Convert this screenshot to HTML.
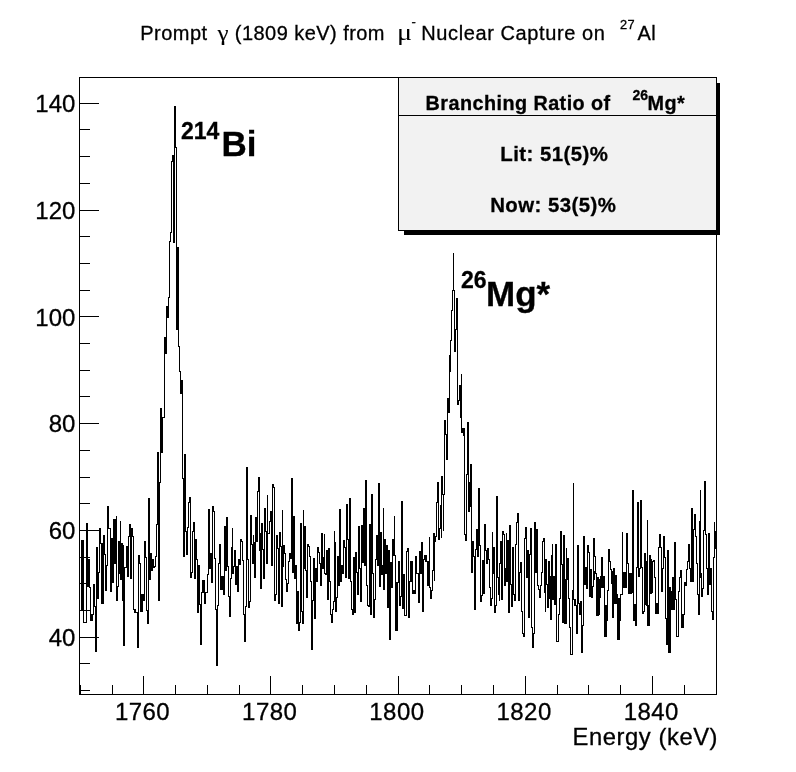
<!DOCTYPE html>
<html><head><meta charset="utf-8"><style>
html,body{margin:0;padding:0;background:#fff;}
svg{display:block;font-family:"Liberation Sans",sans-serif;filter:grayscale(1);}
text{stroke:#000;stroke-width:0.3px;}
</style></head><body>
<svg width="796" height="772" viewBox="0 0 796 772">
<rect width="796" height="772" fill="#fff"/>
<!-- title -->
<g font-size="20" fill="#000" letter-spacing="0.45">
<text x="140.3" y="39.8">Prompt</text>
<text transform="translate(217.4,39.8) scale(1.22,1)" font-family="Liberation Serif" font-size="20.5" letter-spacing="0" style="stroke-width:0.1px">γ</text>
<text x="234.8" y="39.8">(1809 keV) from</text>
<text transform="translate(396.9,39.8) scale(1.25,1)" font-family="Liberation Serif" font-size="22.5" letter-spacing="0" style="stroke-width:0">μ</text>
<text x="411.5" y="25.5" font-size="13">-</text>
<text x="421.3" y="39.8" letter-spacing="0.6">Nuclear Capture on</text>
<text x="620" y="28.8" font-size="12.8">27</text>
<text x="637.5" y="39.8">Al</text>
</g>
<!-- frame -->
<g shape-rendering="crispEdges" fill="#000">
<rect x="79" y="77" width="638" height="1"/>
<rect x="79" y="694" width="638" height="1"/>
<rect x="79" y="77" width="1" height="618"/>
<rect x="716" y="77" width="1" height="618"/>
<rect x="80" y="685" width="1" height="9"/>
<rect x="80" y="690" width="10" height="1"/><rect x="80" y="663" width="10" height="1"/><rect x="80" y="637" width="19" height="1"/><rect x="80" y="610" width="10" height="1"/><rect x="80" y="583" width="10" height="1"/><rect x="80" y="557" width="10" height="1"/><rect x="80" y="530" width="19" height="1"/><rect x="80" y="503" width="10" height="1"/><rect x="80" y="477" width="10" height="1"/><rect x="80" y="450" width="10" height="1"/><rect x="80" y="423" width="19" height="1"/><rect x="80" y="396" width="10" height="1"/><rect x="80" y="370" width="10" height="1"/><rect x="80" y="343" width="10" height="1"/><rect x="80" y="316" width="19" height="1"/><rect x="80" y="290" width="10" height="1"/><rect x="80" y="263" width="10" height="1"/><rect x="80" y="236" width="10" height="1"/><rect x="80" y="210" width="19" height="1"/><rect x="80" y="183" width="10" height="1"/><rect x="80" y="156" width="10" height="1"/><rect x="80" y="129" width="10" height="1"/><rect x="80" y="103" width="19" height="1"/><rect x="112" y="685" width="1" height="9"/><rect x="143" y="676" width="1" height="18"/><rect x="175" y="685" width="1" height="9"/><rect x="207" y="685" width="1" height="9"/><rect x="239" y="685" width="1" height="9"/><rect x="270" y="676" width="1" height="18"/><rect x="302" y="685" width="1" height="9"/><rect x="334" y="685" width="1" height="9"/><rect x="366" y="685" width="1" height="9"/><rect x="398" y="676" width="1" height="18"/><rect x="429" y="685" width="1" height="9"/><rect x="461" y="685" width="1" height="9"/><rect x="493" y="685" width="1" height="9"/><rect x="525" y="676" width="1" height="18"/><rect x="557" y="685" width="1" height="9"/><rect x="588" y="685" width="1" height="9"/><rect x="620" y="685" width="1" height="9"/><rect x="652" y="676" width="1" height="18"/><rect x="684" y="685" width="1" height="9"/>
</g>
<g fill="#000"><text x="75.4" y="646.2" text-anchor="end" font-size="24">40</text><text x="75.4" y="539.3" text-anchor="end" font-size="24">60</text><text x="75.4" y="432.4" text-anchor="end" font-size="24">80</text><text x="75.4" y="325.5" text-anchor="end" font-size="24">100</text><text x="75.4" y="218.6" text-anchor="end" font-size="24">120</text><text x="75.4" y="111.7" text-anchor="end" font-size="24">140</text><text x="142.5" y="720" text-anchor="middle" font-size="24" letter-spacing="0.45">1760</text><text x="269.7" y="720" text-anchor="middle" font-size="24" letter-spacing="0.45">1780</text><text x="396.9" y="720" text-anchor="middle" font-size="24" letter-spacing="0.45">1800</text><text x="524.1" y="720" text-anchor="middle" font-size="24" letter-spacing="0.45">1820</text><text x="651.3" y="720" text-anchor="middle" font-size="24" letter-spacing="0.45">1840</text>
<text x="572.6" y="745" font-size="23.8" letter-spacing="0.55">Energy (keV)</text>
</g>
<!-- histogram -->
<g shape-rendering="crispEdges" fill="#000"><rect x="80" y="610" width="1" height="1"/><rect x="81" y="540" width="1" height="71"/><rect x="82" y="540" width="1" height="71"/><rect x="83" y="540" width="1" height="83"/><rect x="84" y="622" width="1" height="1"/><rect x="85" y="622" width="1" height="1"/><rect x="86" y="523" width="1" height="100"/><rect x="87" y="523" width="1" height="37"/><rect x="88" y="559" width="1" height="1"/><rect x="89" y="559" width="1" height="29"/><rect x="90" y="587" width="1" height="34"/><rect x="91" y="614" width="1" height="7"/><rect x="92" y="614" width="1" height="7"/><rect x="93" y="606" width="1" height="9"/><rect x="94" y="606" width="1" height="1"/><rect x="95" y="606" width="1" height="46"/><rect x="96" y="547" width="1" height="105"/><rect x="97" y="547" width="1" height="52"/><rect x="98" y="572" width="1" height="27"/><rect x="99" y="528" width="1" height="45"/><rect x="100" y="528" width="1" height="16"/><rect x="101" y="543" width="1" height="61"/><rect x="102" y="543" width="1" height="61"/><rect x="103" y="535" width="1" height="69"/><rect x="104" y="535" width="1" height="20"/><rect x="105" y="554" width="1" height="37"/><rect x="106" y="565" width="1" height="26"/><rect x="107" y="506" width="1" height="60"/><rect x="108" y="506" width="1" height="23"/><rect x="109" y="528" width="1" height="1"/><rect x="110" y="528" width="1" height="64"/><rect x="111" y="538" width="1" height="54"/><rect x="112" y="538" width="1" height="45"/><rect x="113" y="519" width="1" height="64"/><rect x="114" y="519" width="1" height="45"/><rect x="115" y="519" width="1" height="45"/><rect x="116" y="516" width="1" height="85"/><rect x="117" y="586" width="1" height="15"/><rect x="118" y="541" width="1" height="46"/><rect x="119" y="541" width="1" height="33"/><rect x="120" y="521" width="1" height="59"/><rect x="121" y="543" width="1" height="37"/><rect x="122" y="543" width="1" height="58"/><rect x="123" y="545" width="1" height="101"/><rect x="124" y="567" width="1" height="79"/><rect x="125" y="567" width="1" height="1"/><rect x="126" y="546" width="1" height="22"/><rect x="127" y="546" width="1" height="31"/><rect x="128" y="536" width="1" height="41"/><rect x="129" y="524" width="1" height="13"/><rect x="130" y="524" width="1" height="55"/><rect x="131" y="528" width="1" height="51"/><rect x="132" y="528" width="1" height="9"/><rect x="133" y="536" width="1" height="74"/><rect x="134" y="609" width="1" height="4"/><rect x="135" y="609" width="1" height="4"/><rect x="136" y="612" width="1" height="1"/><rect x="137" y="612" width="1" height="36"/><rect x="138" y="555" width="1" height="93"/><rect x="139" y="555" width="1" height="9"/><rect x="140" y="563" width="1" height="49"/><rect x="141" y="594" width="1" height="18"/><rect x="142" y="594" width="1" height="18"/><rect x="143" y="594" width="1" height="7"/><rect x="144" y="541" width="1" height="60"/><rect x="145" y="541" width="1" height="17"/><rect x="146" y="557" width="1" height="54"/><rect x="147" y="610" width="1" height="14"/><rect x="148" y="498" width="1" height="126"/><rect x="149" y="498" width="1" height="82"/><rect x="150" y="553" width="1" height="27"/><rect x="151" y="553" width="1" height="18"/><rect x="152" y="559" width="1" height="12"/><rect x="153" y="559" width="1" height="9"/><rect x="154" y="566" width="1" height="2"/><rect x="155" y="556" width="1" height="11"/><rect x="156" y="524" width="1" height="33"/><rect x="157" y="452" width="1" height="73"/><rect x="158" y="452" width="1" height="149"/><rect x="159" y="482" width="1" height="119"/><rect x="160" y="408" width="1" height="75"/><rect x="161" y="408" width="1" height="45"/><rect x="162" y="417" width="1" height="36"/><rect x="163" y="417" width="1" height="1"/><rect x="164" y="337" width="1" height="81"/><rect x="165" y="337" width="1" height="17"/><rect x="166" y="306" width="1" height="48"/><rect x="167" y="306" width="1" height="12"/><rect x="168" y="297" width="1" height="21"/><rect x="169" y="241" width="1" height="57"/><rect x="170" y="232" width="1" height="10"/><rect x="171" y="161" width="1" height="72"/><rect x="172" y="155" width="1" height="7"/><rect x="173" y="155" width="1" height="88"/><rect x="174" y="106" width="1" height="137"/><rect x="175" y="106" width="1" height="42"/><rect x="176" y="147" width="1" height="183"/><rect x="177" y="247" width="1" height="83"/><rect x="178" y="247" width="1" height="100"/><rect x="179" y="346" width="1" height="26"/><rect x="180" y="371" width="1" height="23"/><rect x="181" y="380" width="1" height="14"/><rect x="182" y="380" width="1" height="99"/><rect x="183" y="478" width="1" height="79"/><rect x="184" y="454" width="1" height="103"/><rect x="185" y="454" width="1" height="78"/><rect x="186" y="531" width="1" height="24"/><rect x="187" y="527" width="1" height="28"/><rect x="188" y="502" width="1" height="26"/><rect x="189" y="497" width="1" height="6"/><rect x="190" y="497" width="1" height="81"/><rect x="191" y="572" width="1" height="6"/><rect x="192" y="531" width="1" height="42"/><rect x="193" y="522" width="1" height="10"/><rect x="194" y="522" width="1" height="57"/><rect x="195" y="539" width="1" height="40"/><rect x="196" y="539" width="1" height="21"/><rect x="197" y="559" width="1" height="54"/><rect x="198" y="565" width="1" height="48"/><rect x="199" y="565" width="1" height="40"/><rect x="200" y="604" width="1" height="41"/><rect x="201" y="592" width="1" height="53"/><rect x="202" y="580" width="1" height="13"/><rect x="203" y="580" width="1" height="13"/><rect x="204" y="580" width="1" height="24"/><rect x="205" y="592" width="1" height="12"/><rect x="206" y="592" width="1" height="1"/><rect x="207" y="574" width="1" height="19"/><rect x="208" y="509" width="1" height="66"/><rect x="209" y="509" width="1" height="60"/><rect x="210" y="553" width="1" height="16"/><rect x="211" y="553" width="1" height="30"/><rect x="212" y="506" width="1" height="77"/><rect x="213" y="506" width="1" height="6"/><rect x="214" y="511" width="1" height="48"/><rect x="215" y="558" width="1" height="52"/><rect x="216" y="609" width="1" height="57"/><rect x="217" y="605" width="1" height="61"/><rect x="218" y="563" width="1" height="43"/><rect x="219" y="544" width="1" height="20"/><rect x="220" y="544" width="1" height="46"/><rect x="221" y="576" width="1" height="14"/><rect x="222" y="576" width="1" height="14"/><rect x="223" y="576" width="1" height="19"/><rect x="224" y="526" width="1" height="69"/><rect x="225" y="526" width="1" height="45"/><rect x="226" y="517" width="1" height="54"/><rect x="227" y="517" width="1" height="50"/><rect x="228" y="566" width="1" height="31"/><rect x="229" y="596" width="1" height="21"/><rect x="230" y="578" width="1" height="39"/><rect x="231" y="547" width="1" height="32"/><rect x="232" y="528" width="1" height="46"/><rect x="233" y="566" width="1" height="8"/><rect x="234" y="550" width="1" height="17"/><rect x="235" y="550" width="1" height="35"/><rect x="236" y="566" width="1" height="19"/><rect x="237" y="566" width="1" height="26"/><rect x="238" y="559" width="1" height="33"/><rect x="239" y="559" width="1" height="6"/><rect x="240" y="539" width="1" height="26"/><rect x="241" y="539" width="1" height="3"/><rect x="242" y="541" width="1" height="20"/><rect x="243" y="560" width="1" height="55"/><rect x="244" y="614" width="1" height="28"/><rect x="245" y="606" width="1" height="36"/><rect x="246" y="467" width="1" height="140"/><rect x="247" y="467" width="1" height="93"/><rect x="248" y="559" width="1" height="49"/><rect x="249" y="601" width="1" height="7"/><rect x="250" y="515" width="1" height="87"/><rect x="251" y="515" width="1" height="30"/><rect x="252" y="544" width="1" height="20"/><rect x="253" y="535" width="1" height="29"/><rect x="254" y="542" width="1" height="36"/><rect x="255" y="517" width="1" height="61"/><rect x="256" y="517" width="1" height="25"/><rect x="257" y="491" width="1" height="51"/><rect x="258" y="477" width="1" height="15"/><rect x="259" y="477" width="1" height="74"/><rect x="260" y="533" width="1" height="56"/><rect x="261" y="523" width="1" height="66"/><rect x="262" y="523" width="1" height="27"/><rect x="263" y="549" width="1" height="30"/><rect x="264" y="508" width="1" height="71"/><rect x="265" y="508" width="1" height="24"/><rect x="266" y="531" width="1" height="33"/><rect x="267" y="495" width="1" height="69"/><rect x="268" y="533" width="1" height="1"/><rect x="269" y="521" width="1" height="13"/><rect x="270" y="511" width="1" height="11"/><rect x="271" y="511" width="1" height="55"/><rect x="272" y="484" width="1" height="82"/><rect x="273" y="484" width="1" height="4"/><rect x="274" y="487" width="1" height="114"/><rect x="275" y="594" width="1" height="7"/><rect x="276" y="535" width="1" height="60"/><rect x="277" y="535" width="1" height="14"/><rect x="278" y="548" width="1" height="56"/><rect x="279" y="532" width="1" height="72"/><rect x="280" y="532" width="1" height="15"/><rect x="281" y="546" width="1" height="61"/><rect x="282" y="510" width="1" height="97"/><rect x="283" y="545" width="1" height="22"/><rect x="284" y="545" width="1" height="9"/><rect x="285" y="553" width="1" height="27"/><rect x="286" y="579" width="1" height="13"/><rect x="287" y="583" width="1" height="9"/><rect x="288" y="561" width="1" height="23"/><rect x="289" y="553" width="1" height="9"/><rect x="290" y="553" width="1" height="6"/><rect x="291" y="478" width="1" height="81"/><rect x="292" y="478" width="1" height="95"/><rect x="293" y="516" width="1" height="57"/><rect x="294" y="516" width="1" height="63"/><rect x="295" y="565" width="1" height="14"/><rect x="296" y="565" width="1" height="59"/><rect x="297" y="591" width="1" height="33"/><rect x="298" y="591" width="1" height="40"/><rect x="299" y="622" width="1" height="9"/><rect x="300" y="523" width="1" height="100"/><rect x="301" y="523" width="1" height="89"/><rect x="302" y="611" width="1" height="13"/><rect x="303" y="510" width="1" height="114"/><rect x="304" y="526" width="1" height="43"/><rect x="305" y="526" width="1" height="45"/><rect x="306" y="570" width="1" height="28"/><rect x="307" y="544" width="1" height="54"/><rect x="308" y="544" width="1" height="3"/><rect x="309" y="546" width="1" height="11"/><rect x="310" y="556" width="1" height="26"/><rect x="311" y="581" width="1" height="69"/><rect x="312" y="600" width="1" height="50"/><rect x="313" y="558" width="1" height="43"/><rect x="314" y="558" width="1" height="61"/><rect x="315" y="568" width="1" height="51"/><rect x="316" y="568" width="1" height="14"/><rect x="317" y="547" width="1" height="35"/><rect x="318" y="547" width="1" height="6"/><rect x="319" y="552" width="1" height="12"/><rect x="320" y="563" width="1" height="23"/><rect x="321" y="533" width="1" height="53"/><rect x="322" y="533" width="1" height="36"/><rect x="323" y="557" width="1" height="12"/><rect x="324" y="534" width="1" height="40"/><rect x="325" y="573" width="1" height="2"/><rect x="326" y="550" width="1" height="25"/><rect x="327" y="550" width="1" height="50"/><rect x="328" y="548" width="1" height="52"/><rect x="329" y="548" width="1" height="34"/><rect x="330" y="581" width="1" height="34"/><rect x="331" y="614" width="1" height="9"/><rect x="332" y="609" width="1" height="14"/><rect x="333" y="601" width="1" height="9"/><rect x="334" y="531" width="1" height="71"/><rect x="335" y="542" width="1" height="70"/><rect x="336" y="597" width="1" height="15"/><rect x="337" y="556" width="1" height="42"/><rect x="338" y="556" width="1" height="30"/><rect x="339" y="509" width="1" height="77"/><rect x="340" y="509" width="1" height="73"/><rect x="341" y="565" width="1" height="17"/><rect x="342" y="565" width="1" height="9"/><rect x="343" y="540" width="1" height="34"/><rect x="344" y="540" width="1" height="8"/><rect x="345" y="547" width="1" height="31"/><rect x="346" y="504" width="1" height="74"/><rect x="347" y="504" width="1" height="36"/><rect x="348" y="539" width="1" height="40"/><rect x="349" y="498" width="1" height="81"/><rect x="350" y="498" width="1" height="84"/><rect x="351" y="581" width="1" height="29"/><rect x="352" y="609" width="1" height="6"/><rect x="353" y="557" width="1" height="58"/><rect x="354" y="557" width="1" height="56"/><rect x="355" y="552" width="1" height="61"/><rect x="356" y="552" width="1" height="21"/><rect x="357" y="572" width="1" height="23"/><rect x="358" y="526" width="1" height="69"/><rect x="359" y="526" width="1" height="43"/><rect x="360" y="568" width="1" height="34"/><rect x="361" y="525" width="1" height="77"/><rect x="362" y="525" width="1" height="38"/><rect x="363" y="508" width="1" height="55"/><rect x="364" y="508" width="1" height="58"/><rect x="365" y="480" width="1" height="86"/><rect x="366" y="480" width="1" height="106"/><rect x="367" y="585" width="1" height="21"/><rect x="368" y="605" width="1" height="2"/><rect x="369" y="524" width="1" height="83"/><rect x="370" y="524" width="1" height="91"/><rect x="371" y="494" width="1" height="121"/><rect x="372" y="494" width="1" height="80"/><rect x="373" y="573" width="1" height="45"/><rect x="374" y="599" width="1" height="19"/><rect x="375" y="559" width="1" height="41"/><rect x="376" y="535" width="1" height="25"/><rect x="377" y="535" width="1" height="31"/><rect x="378" y="483" width="1" height="83"/><rect x="379" y="483" width="1" height="104"/><rect x="380" y="532" width="1" height="55"/><rect x="381" y="532" width="1" height="43"/><rect x="382" y="565" width="1" height="10"/><rect x="383" y="508" width="1" height="82"/><rect x="384" y="539" width="1" height="51"/><rect x="385" y="539" width="1" height="35"/><rect x="386" y="545" width="1" height="29"/><rect x="387" y="545" width="1" height="63"/><rect x="388" y="550" width="1" height="58"/><rect x="389" y="550" width="1" height="90"/><rect x="390" y="562" width="1" height="78"/><rect x="391" y="562" width="1" height="26"/><rect x="392" y="539" width="1" height="49"/><rect x="393" y="539" width="1" height="17"/><rect x="394" y="516" width="1" height="40"/><rect x="395" y="555" width="1" height="76"/><rect x="396" y="582" width="1" height="49"/><rect x="397" y="582" width="1" height="49"/><rect x="398" y="561" width="1" height="22"/><rect x="399" y="561" width="1" height="45"/><rect x="400" y="596" width="1" height="10"/><rect x="401" y="501" width="1" height="96"/><rect x="402" y="501" width="1" height="108"/><rect x="403" y="574" width="1" height="35"/><rect x="404" y="574" width="1" height="42"/><rect x="405" y="615" width="1" height="1"/><rect x="406" y="551" width="1" height="65"/><rect x="407" y="548" width="1" height="4"/><rect x="408" y="548" width="1" height="70"/><rect x="409" y="581" width="1" height="37"/><rect x="410" y="561" width="1" height="21"/><rect x="411" y="561" width="1" height="21"/><rect x="412" y="561" width="1" height="33"/><rect x="413" y="590" width="1" height="4"/><rect x="414" y="590" width="1" height="4"/><rect x="415" y="556" width="1" height="38"/><rect x="416" y="556" width="1" height="18"/><rect x="417" y="573" width="1" height="1"/><rect x="418" y="573" width="1" height="30"/><rect x="419" y="551" width="1" height="52"/><rect x="420" y="551" width="1" height="23"/><rect x="421" y="542" width="1" height="32"/><rect x="422" y="542" width="1" height="70"/><rect x="423" y="559" width="1" height="53"/><rect x="424" y="555" width="1" height="5"/><rect x="425" y="555" width="1" height="7"/><rect x="426" y="555" width="1" height="7"/><rect x="427" y="561" width="1" height="25"/><rect x="428" y="561" width="1" height="25"/><rect x="429" y="537" width="1" height="51"/><rect x="430" y="587" width="1" height="12"/><rect x="431" y="590" width="1" height="9"/><rect x="432" y="570" width="1" height="21"/><rect x="433" y="533" width="1" height="38"/><rect x="434" y="533" width="1" height="48"/><rect x="435" y="536" width="1" height="6"/><rect x="436" y="502" width="1" height="35"/><rect x="437" y="482" width="1" height="21"/><rect x="438" y="482" width="1" height="58"/><rect x="439" y="528" width="1" height="12"/><rect x="440" y="505" width="1" height="24"/><rect x="441" y="476" width="1" height="62"/><rect x="442" y="476" width="1" height="19"/><rect x="443" y="494" width="1" height="37"/><rect x="444" y="420" width="1" height="75"/><rect x="445" y="420" width="1" height="15"/><rect x="446" y="434" width="1" height="26"/><rect x="447" y="398" width="1" height="62"/><rect x="448" y="398" width="1" height="15"/><rect x="449" y="355" width="1" height="58"/><rect x="450" y="340" width="1" height="32"/><rect x="451" y="310" width="1" height="31"/><rect x="452" y="290" width="1" height="21"/><rect x="453" y="253" width="1" height="38"/><rect x="454" y="290" width="1" height="62"/><rect x="455" y="329" width="1" height="23"/><rect x="456" y="298" width="1" height="32"/><rect x="457" y="298" width="1" height="107"/><rect x="458" y="400" width="1" height="5"/><rect x="459" y="385" width="1" height="16"/><rect x="460" y="385" width="1" height="33"/><rect x="461" y="374" width="1" height="59"/><rect x="462" y="428" width="1" height="5"/><rect x="463" y="428" width="1" height="8"/><rect x="464" y="428" width="1" height="107"/><rect x="465" y="534" width="1" height="7"/><rect x="466" y="474" width="1" height="67"/><rect x="467" y="422" width="1" height="53"/><rect x="468" y="422" width="1" height="90"/><rect x="469" y="482" width="1" height="30"/><rect x="470" y="464" width="1" height="43"/><rect x="471" y="464" width="1" height="109"/><rect x="472" y="541" width="1" height="32"/><rect x="473" y="541" width="1" height="16"/><rect x="474" y="556" width="1" height="54"/><rect x="475" y="549" width="1" height="61"/><rect x="476" y="529" width="1" height="21"/><rect x="477" y="529" width="1" height="28"/><rect x="478" y="488" width="1" height="69"/><rect x="479" y="488" width="1" height="58"/><rect x="480" y="545" width="1" height="57"/><rect x="481" y="595" width="1" height="7"/><rect x="482" y="560" width="1" height="36"/><rect x="483" y="560" width="1" height="34"/><rect x="484" y="524" width="1" height="70"/><rect x="485" y="524" width="1" height="27"/><rect x="486" y="550" width="1" height="14"/><rect x="487" y="548" width="1" height="16"/><rect x="488" y="548" width="1" height="12"/><rect x="489" y="559" width="1" height="29"/><rect x="490" y="587" width="1" height="19"/><rect x="491" y="598" width="1" height="8"/><rect x="492" y="532" width="1" height="67"/><rect x="493" y="547" width="1" height="27"/><rect x="494" y="547" width="1" height="66"/><rect x="495" y="605" width="1" height="8"/><rect x="496" y="496" width="1" height="110"/><rect x="497" y="496" width="1" height="82"/><rect x="498" y="577" width="1" height="18"/><rect x="499" y="563" width="1" height="38"/><rect x="500" y="541" width="1" height="23"/><rect x="501" y="541" width="1" height="59"/><rect x="502" y="531" width="1" height="69"/><rect x="503" y="531" width="1" height="4"/><rect x="504" y="534" width="1" height="52"/><rect x="505" y="568" width="1" height="18"/><rect x="506" y="533" width="1" height="49"/><rect x="507" y="540" width="1" height="42"/><rect x="508" y="540" width="1" height="73"/><rect x="509" y="525" width="1" height="88"/><rect x="510" y="525" width="1" height="60"/><rect x="511" y="584" width="1" height="23"/><rect x="512" y="547" width="1" height="60"/><rect x="513" y="547" width="1" height="48"/><rect x="514" y="594" width="1" height="7"/><rect x="515" y="544" width="1" height="57"/><rect x="516" y="522" width="1" height="23"/><rect x="517" y="513" width="1" height="10"/><rect x="518" y="513" width="1" height="88"/><rect x="519" y="572" width="1" height="29"/><rect x="520" y="562" width="1" height="11"/><rect x="521" y="562" width="1" height="50"/><rect x="522" y="611" width="1" height="23"/><rect x="523" y="633" width="1" height="4"/><rect x="524" y="538" width="1" height="99"/><rect x="525" y="527" width="1" height="12"/><rect x="526" y="527" width="1" height="51"/><rect x="527" y="550" width="1" height="28"/><rect x="528" y="550" width="1" height="68"/><rect x="529" y="554" width="1" height="64"/><rect x="530" y="528" width="1" height="27"/><rect x="531" y="528" width="1" height="100"/><rect x="532" y="627" width="1" height="21"/><rect x="533" y="633" width="1" height="15"/><rect x="534" y="522" width="1" height="112"/><rect x="535" y="522" width="1" height="51"/><rect x="536" y="529" width="1" height="44"/><rect x="537" y="529" width="1" height="57"/><rect x="538" y="585" width="1" height="5"/><rect x="539" y="589" width="1" height="9"/><rect x="540" y="585" width="1" height="13"/><rect x="541" y="572" width="1" height="14"/><rect x="542" y="541" width="1" height="32"/><rect x="543" y="538" width="1" height="4"/><rect x="544" y="538" width="1" height="55"/><rect x="545" y="559" width="1" height="53"/><rect x="546" y="559" width="1" height="26"/><rect x="547" y="584" width="1" height="24"/><rect x="548" y="561" width="1" height="47"/><rect x="549" y="561" width="1" height="38"/><rect x="550" y="598" width="1" height="22"/><rect x="551" y="555" width="1" height="65"/><rect x="552" y="544" width="1" height="56"/><rect x="553" y="579" width="1" height="21"/><rect x="554" y="579" width="1" height="26"/><rect x="555" y="544" width="1" height="61"/><rect x="556" y="544" width="1" height="98"/><rect x="557" y="641" width="1" height="1"/><rect x="558" y="614" width="1" height="28"/><rect x="559" y="598" width="1" height="17"/><rect x="560" y="531" width="1" height="68"/><rect x="561" y="531" width="1" height="34"/><rect x="562" y="564" width="1" height="59"/><rect x="563" y="535" width="1" height="88"/><rect x="564" y="535" width="1" height="89"/><rect x="565" y="579" width="1" height="45"/><rect x="566" y="548" width="1" height="76"/><rect x="567" y="558" width="1" height="22"/><rect x="568" y="558" width="1" height="41"/><rect x="569" y="598" width="1" height="30"/><rect x="570" y="627" width="1" height="28"/><rect x="571" y="654" width="1" height="1"/><rect x="572" y="590" width="1" height="65"/><rect x="573" y="483" width="1" height="117"/><rect x="574" y="599" width="1" height="7"/><rect x="575" y="599" width="1" height="7"/><rect x="576" y="605" width="1" height="29"/><rect x="577" y="545" width="1" height="89"/><rect x="578" y="545" width="1" height="59"/><rect x="579" y="603" width="1" height="12"/><rect x="580" y="601" width="1" height="14"/><rect x="581" y="601" width="1" height="52"/><rect x="582" y="625" width="1" height="28"/><rect x="583" y="536" width="1" height="90"/><rect x="584" y="536" width="1" height="49"/><rect x="585" y="567" width="1" height="18"/><rect x="586" y="567" width="1" height="22"/><rect x="587" y="545" width="1" height="44"/><rect x="588" y="545" width="1" height="8"/><rect x="589" y="552" width="1" height="18"/><rect x="590" y="569" width="1" height="12"/><rect x="591" y="580" width="1" height="18"/><rect x="592" y="586" width="1" height="12"/><rect x="593" y="538" width="1" height="49"/><rect x="594" y="538" width="1" height="19"/><rect x="595" y="556" width="1" height="18"/><rect x="596" y="573" width="1" height="42"/><rect x="597" y="614" width="1" height="1"/><rect x="598" y="597" width="1" height="18"/><rect x="599" y="597" width="1" height="18"/><rect x="600" y="576" width="1" height="22"/><rect x="601" y="557" width="1" height="20"/><rect x="602" y="557" width="1" height="31"/><rect x="603" y="587" width="1" height="1"/><rect x="604" y="587" width="1" height="50"/><rect x="605" y="613" width="1" height="24"/><rect x="606" y="613" width="1" height="24"/><rect x="607" y="590" width="1" height="24"/><rect x="608" y="549" width="1" height="42"/><rect x="609" y="549" width="1" height="13"/><rect x="610" y="561" width="1" height="9"/><rect x="611" y="569" width="1" height="15"/><rect x="612" y="583" width="1" height="35"/><rect x="613" y="568" width="1" height="50"/><rect x="614" y="568" width="1" height="36"/><rect x="615" y="603" width="1" height="1"/><rect x="616" y="594" width="1" height="10"/><rect x="617" y="594" width="1" height="46"/><rect x="618" y="617" width="1" height="23"/><rect x="619" y="617" width="1" height="23"/><rect x="620" y="594" width="1" height="24"/><rect x="621" y="594" width="1" height="1"/><rect x="622" y="532" width="1" height="63"/><rect x="623" y="573" width="1" height="15"/><rect x="624" y="583" width="1" height="5"/><rect x="625" y="583" width="1" height="5"/><rect x="626" y="533" width="1" height="51"/><rect x="627" y="533" width="1" height="31"/><rect x="628" y="563" width="1" height="30"/><rect x="629" y="592" width="1" height="1"/><rect x="630" y="573" width="1" height="20"/><rect x="631" y="573" width="1" height="20"/><rect x="632" y="490" width="1" height="103"/><rect x="633" y="490" width="1" height="130"/><rect x="634" y="604" width="1" height="16"/><rect x="635" y="604" width="1" height="22"/><rect x="636" y="567" width="1" height="59"/><rect x="637" y="502" width="1" height="66"/><rect x="638" y="502" width="1" height="75"/><rect x="639" y="568" width="1" height="9"/><rect x="640" y="500" width="1" height="69"/><rect x="641" y="500" width="1" height="68"/><rect x="642" y="567" width="1" height="47"/><rect x="643" y="611" width="1" height="3"/><rect x="644" y="553" width="1" height="59"/><rect x="645" y="553" width="1" height="9"/><rect x="646" y="561" width="1" height="45"/><rect x="647" y="520" width="1" height="106"/><rect x="648" y="605" width="1" height="21"/><rect x="649" y="555" width="1" height="71"/><rect x="650" y="555" width="1" height="5"/><rect x="651" y="559" width="1" height="34"/><rect x="652" y="561" width="1" height="32"/><rect x="653" y="560" width="1" height="2"/><rect x="654" y="560" width="1" height="18"/><rect x="655" y="577" width="1" height="33"/><rect x="656" y="609" width="1" height="1"/><rect x="657" y="609" width="1" height="4"/><rect x="658" y="547" width="1" height="66"/><rect x="659" y="534" width="1" height="14"/><rect x="660" y="534" width="1" height="14"/><rect x="661" y="547" width="1" height="45"/><rect x="662" y="568" width="1" height="24"/><rect x="663" y="536" width="1" height="33"/><rect x="664" y="536" width="1" height="22"/><rect x="665" y="557" width="1" height="62"/><rect x="666" y="618" width="1" height="27"/><rect x="667" y="550" width="1" height="95"/><rect x="668" y="550" width="1" height="103"/><rect x="669" y="603" width="1" height="50"/><rect x="670" y="603" width="1" height="50"/><rect x="671" y="603" width="1" height="7"/><rect x="672" y="577" width="1" height="33"/><rect x="673" y="577" width="1" height="25"/><rect x="674" y="542" width="1" height="60"/><rect x="675" y="542" width="1" height="58"/><rect x="676" y="599" width="1" height="38"/><rect x="677" y="636" width="1" height="1"/><rect x="678" y="591" width="1" height="46"/><rect x="679" y="577" width="1" height="15"/><rect x="680" y="570" width="1" height="8"/><rect x="681" y="570" width="1" height="58"/><rect x="682" y="614" width="1" height="14"/><rect x="683" y="614" width="1" height="14"/><rect x="684" y="582" width="1" height="33"/><rect x="685" y="582" width="1" height="4"/><rect x="686" y="569" width="1" height="17"/><rect x="687" y="561" width="1" height="9"/><rect x="688" y="544" width="1" height="18"/><rect x="689" y="544" width="1" height="25"/><rect x="690" y="568" width="1" height="14"/><rect x="691" y="508" width="1" height="74"/><rect x="692" y="508" width="1" height="74"/><rect x="693" y="529" width="1" height="53"/><rect x="694" y="514" width="1" height="16"/><rect x="695" y="514" width="1" height="23"/><rect x="696" y="536" width="1" height="28"/><rect x="697" y="563" width="1" height="32"/><rect x="698" y="594" width="1" height="21"/><rect x="699" y="521" width="1" height="94"/><rect x="700" y="490" width="1" height="88"/><rect x="701" y="573" width="1" height="24"/><rect x="702" y="588" width="1" height="9"/><rect x="703" y="530" width="1" height="59"/><rect x="704" y="481" width="1" height="50"/><rect x="705" y="481" width="1" height="54"/><rect x="706" y="534" width="1" height="35"/><rect x="707" y="568" width="1" height="27"/><rect x="708" y="533" width="1" height="62"/><rect x="709" y="533" width="1" height="52"/><rect x="710" y="568" width="1" height="17"/><rect x="711" y="568" width="1" height="44"/><rect x="712" y="611" width="1" height="9"/><rect x="713" y="557" width="1" height="63"/><rect x="714" y="522" width="1" height="36"/><rect x="715" y="531" width="1" height="18"/><rect x="716" y="531" width="1" height="18"/><rect x="589" y="569" width="3" height="28"/><rect x="593" y="571" width="2" height="9"/><rect x="596" y="577" width="3" height="39"/><rect x="599" y="579" width="2" height="18"/><rect x="600" y="576" width="5" height="12"/><rect x="605" y="605" width="3" height="16"/><rect x="611" y="571" width="2" height="13"/><rect x="614" y="575" width="3" height="29"/><rect x="617" y="598" width="4" height="23"/><rect x="623" y="572" width="4" height="16"/><rect x="628" y="573" width="4" height="21"/><rect x="633" y="604" width="4" height="17"/><rect x="645" y="561" width="3" height="44"/><rect x="650" y="559" width="2" height="35"/><rect x="655" y="603" width="4" height="11"/><rect x="668" y="587" width="3" height="34"/><rect x="671" y="591" width="4" height="19"/><rect x="87" y="559" width="3" height="28"/><rect x="93" y="584" width="2" height="22"/><rect x="550" y="576" width="6" height="24"/></g>
<!-- box -->
<g shape-rendering="crispEdges">
<rect x="404" y="83" width="316" height="152" fill="#000"/>
<rect x="398.5" y="77.5" width="318" height="153" fill="#f2f2f2" stroke="#000" stroke-width="1"/>
<rect x="398" y="115" width="319" height="1" fill="#000"/>
</g>
<g font-weight="bold" fill="#000">
<text x="425.6" y="110.3" font-size="19.8" letter-spacing="0.45">Branching Ratio of</text>
<text x="632.5" y="100.2" font-size="14">26</text>
<text x="647.5" y="110.3" font-size="19.8" letter-spacing="0.45">Mg*</text>
<text x="500.3" y="160.6" font-size="20.4" letter-spacing="0.45">Lit: 51(5)%</text>
<text x="490.2" y="211.8" font-size="20.4" letter-spacing="0.45">Now: 53(5)%</text>
<text x="181" y="139" font-size="23">214</text>
<text x="221.5" y="156" font-size="35">Bi</text>
<text x="461" y="288" font-size="23">26</text>
<text x="486" y="306" font-size="35">Mg*</text>
</g>
</svg>
</body></html>
